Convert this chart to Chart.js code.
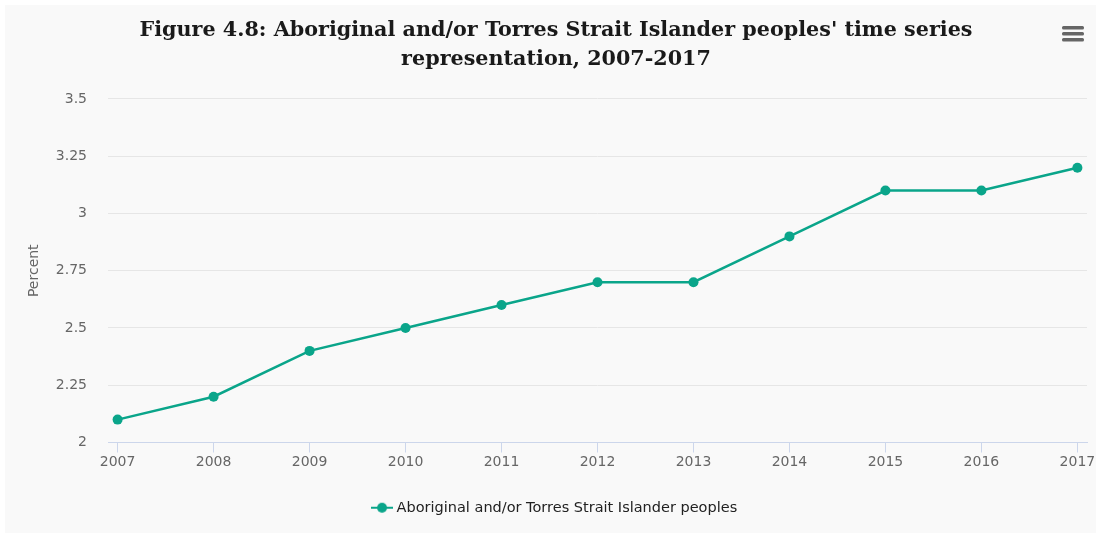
<!DOCTYPE html>
<html>
<head>
<meta charset="utf-8">
<script src="https://cdn.jsdelivr.net/npm/chart.js@4"></script>
<style>
    html, body { margin: 0; padding: 0; background: #ffffff; }
    #wrap { position: absolute; left: 5px; top: 5px; width: 1091px; height: 528px; background: #f9f9f9; }
</style>
</head>
<body>
<div id="wrap"><canvas id="timeSeriesChart"></canvas></div>
<script>
// Figure 4.8 data
const years = [2007, 2008, 2009, 2010, 2011, 2012, 2013, 2014, 2015, 2016, 2017];
const percentValues = [2.1, 2.2, 2.4, 2.5, 2.6, 2.7, 2.7, 2.9, 3.1, 3.1, 3.2];
const yTicks = [2, 2.25, 2.5, 2.75, 3, 3.25, 3.5];
const seriesName = "Aboriginal and/or Torres Strait Islander peoples";
const titleLines = [
    "Figure 4.8: Aboriginal and/or Torres Strait Islander peoples' time series",
    "representation, 2007-2017"
];

const lineColour = "#0aa58a";

// legend icon: short line with a dot
const legendIcon = document.createElement("canvas");
legendIcon.width = 22;
legendIcon.height = 12;
(function () {
    const c = legendIcon.getContext("2d");
    c.strokeStyle = lineColour;
    c.lineWidth = 2;
    c.beginPath();
    c.moveTo(0, 6);
    c.lineTo(22, 6);
    c.stroke();
    c.fillStyle = lineColour;
    c.beginPath();
    c.arc(11, 6, 5, 0, Math.PI * 2);
    c.fill();
})();

// hamburger menu drawn on top right
const menuIcon = {
    id: "menuIcon",
    afterDraw(chart) {
        const ctx = chart.ctx;
        ctx.save();
        ctx.fillStyle = "#666666";
        [0, 6, 12].forEach(dy => {
            ctx.beginPath();
            ctx.roundRect(1057, 21 + dy, 22, 3.5, 1.5);
            ctx.fill();
        });
        ctx.restore();
    }
};

new Chart(document.getElementById("timeSeriesChart"), {
    type: "line",
    data: {
        datasets: [{
            label: seriesName,
            data: years.map((y, i) => ({ x: y, y: percentValues[i] })),
            borderColor: lineColour,
            backgroundColor: lineColour,
            borderWidth: 2.5,
            pointRadius: 5,
            pointHoverRadius: 6,
            pointBorderWidth: 0,
            tension: 0
        }]
    },
    options: {
        responsive: true,
        maintainAspectRatio: false,
        animation: false,
        layout: {
            padding: { left: 20, right: 9, top: 0, bottom: 8 }
        },
        plugins: {
            title: {
                display: true,
                text: titleLines,
                color: "#1a1a1a",
                font: { family: "'DejaVu Serif', serif", size: 20.7, weight: "bold", lineHeight: 1.4 },
                padding: { top: 11, bottom: 25 }
            },
            legend: {
                position: "bottom",
                labels: {
                    usePointStyle: true,
                    pointStyle: legendIcon,
                    color: "#222222",
                    padding: 12,
                    font: { family: "'DejaVu Sans', sans-serif", size: 14.5 }
                }
            },
            tooltip: { enabled: true }
        },
        scales: {
            x: {
                type: "linear",
                min: 2006.9,
                max: 2017.1,
                afterFit: s => { s.height = 46; s.paddingLeft = 0; s.paddingRight = 0; },
                ticks: {
                    stepSize: 1,
                    includeBounds: false,
                    color: "#666666",
                    padding: 1,
                    maxRotation: 0,
                    font: { family: "'DejaVu Sans', sans-serif", size: 14 },
                    callback: v => String(v)
                },
                grid: {
                    drawOnChartArea: false,
                    drawTicks: true,
                    tickLength: 10,
                    color: "#ccd6eb"
                },
                border: { color: "#ccd6eb", width: 1 }
            },
            y: {
                min: 2,
                max: 3.5,
                afterFit: s => { s.width = 83; },
                afterBuildTicks: s => { s.ticks = yTicks.map(v => ({ value: v })); },
                ticks: {
                    color: "#666666",
                    padding: 21,
                    font: { family: "'DejaVu Sans', sans-serif", size: 14 },
                    callback: v => String(v)
                },
                grid: {
                    color: "#e6e6e6",
                    drawTicks: false
                },
                border: { display: false },
                title: {
                    display: true,
                    text: "Percent",
                    color: "#666666",
                    font: { family: "'DejaVu Sans', sans-serif", size: 14 },
                    padding: { top: 1, bottom: 0 }
                }
            }
        }
    },
    plugins: [menuIcon]
});
</script>
</body>
</html>
